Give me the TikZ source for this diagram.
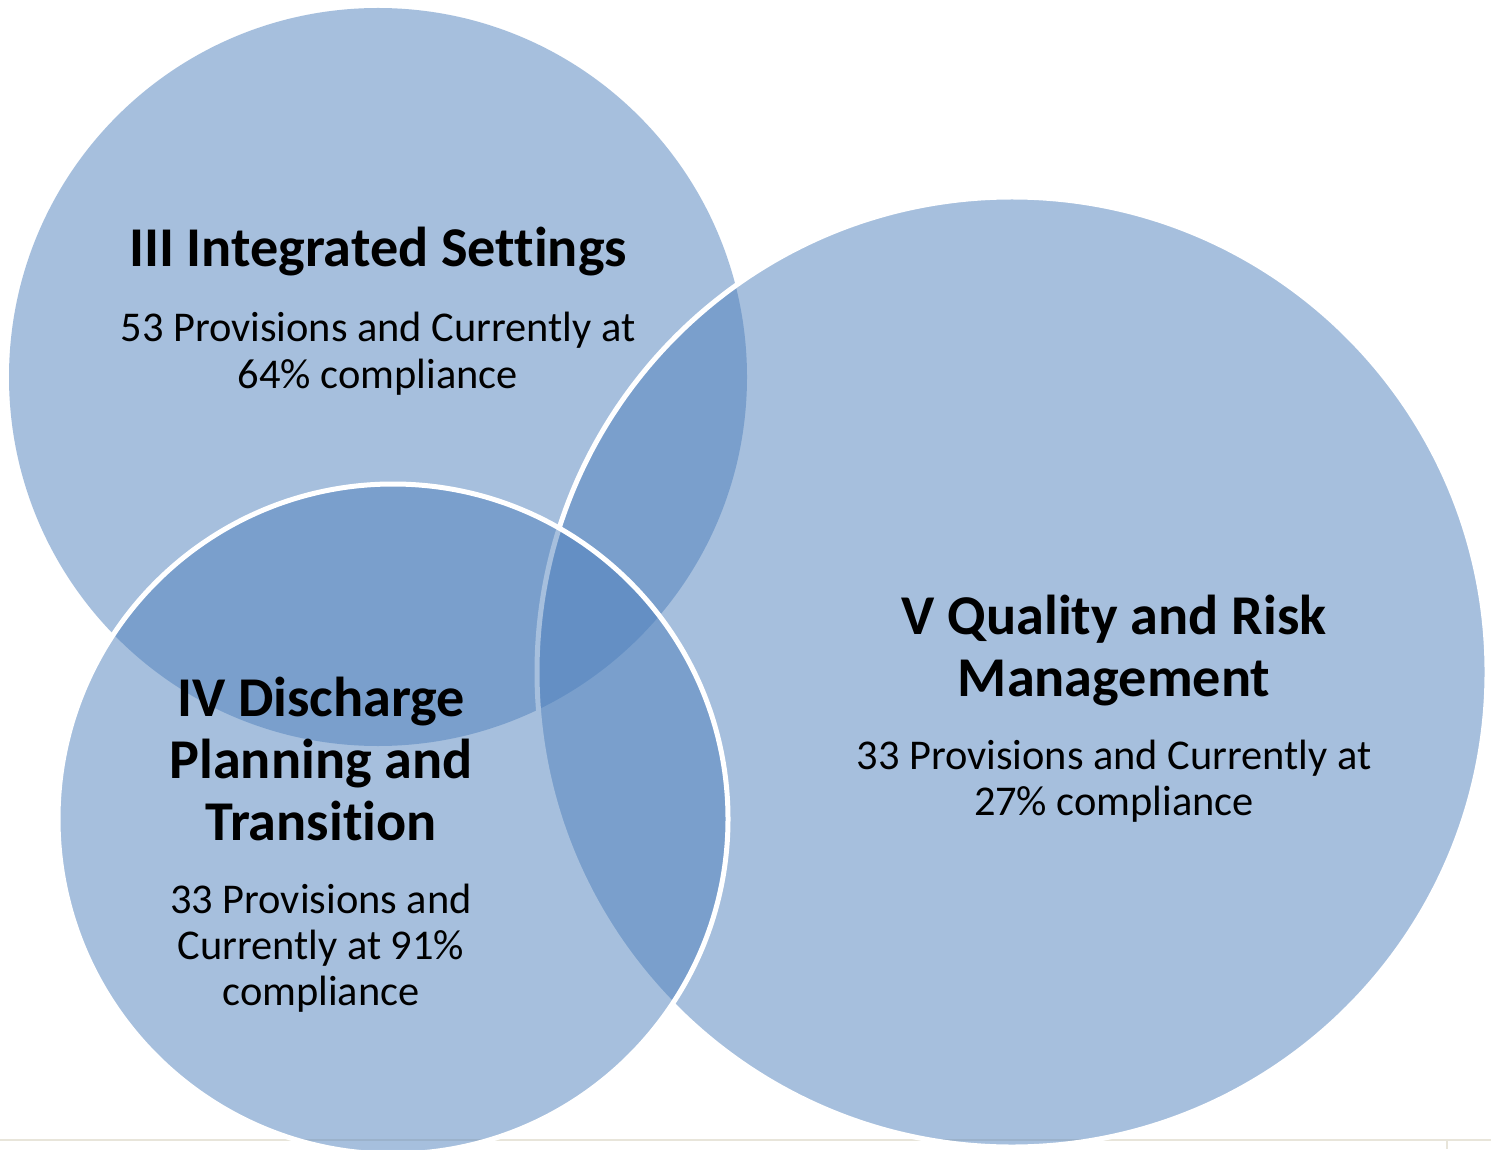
\documentclass[tikz,border=0pt]{standalone}
\usepackage{fontspec}
\setmainfont{Carlito}[Ligatures=NoCommon]
\definecolor{cfill}{RGB}{79,129,189}
\definecolor{rule}{RGB}{232,229,218}
\begin{document}
\begin{tikzpicture}[x=0.5pt,y=-0.5pt,
  venn/.style={fill=cfill, fill opacity=0.5},
  vennw/.style={fill=cfill, fill opacity=0.5, draw=white, line width=2.5pt},
  ttl/.style={font=\fontsize{28.1}{31}\selectfont\bfseries, anchor=base, inner sep=0pt},
  body/.style={font=\fontsize{21.2}{23}\selectfont, anchor=base, inner sep=0pt}]
\useasboundingbox (0,0) rectangle (1491,1149);
\clip (0,0) rectangle (1491,1149);
\fill[white] (0,0) rectangle (1491,1149);
\draw[rule, line width=1.2pt] (0,1140) -- (1491,1140);
\draw[rule, line width=1pt] (1447,1140) -- (1447,1149);
\coordinate (cIII) at (378,377);
\coordinate (cV) at (1012,672);
\coordinate (cIV) at (393,819);
\fill[venn] (cIII) circle[radius=184.5pt];
\filldraw[vennw] (cV) circle[radius=237.5pt];
\filldraw[vennw] (cIV) circle[radius=167.5pt];
% III
\node[ttl] (t3) at (378,267) {III Integrated Settings};
\node[body] (b3a) at (378,342) {53 Provisions and Currently at};
\node[body] (b3b) at (378,388) {64\% compliance};
% V
\node[ttl] (t5a) at (1114,634) {V Quality and Risk};
\node[ttl] (t5b) at (1114,696) {Management};
\node[body] (b5a) at (1114,769) {33 Provisions and Currently at};
\node[body] (b5b) at (1114,815) {27\% compliance};
% IV
\node[ttl] (t4a) at (321,716) {IV Discharge};
\node[ttl] (t4b) at (321,778) {Planning and};
\node[ttl] (t4c) at (321,840) {Transition};
\node[body] (b4a) at (321,913) {33 Provisions and};
\node[body] (b4b) at (321,959) {Currently at 91\%};
\node[body] (b4c) at (321,1005) {compliance};
\end{tikzpicture}
\end{document}
